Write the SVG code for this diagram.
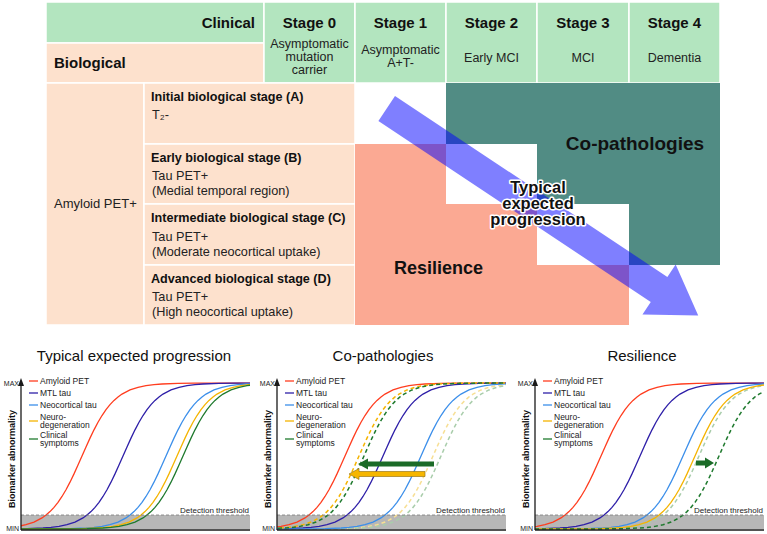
<svg xmlns="http://www.w3.org/2000/svg" xmlns:xlink="http://www.w3.org/1999/xlink" width="767" height="534" viewBox="0 0 767 534">
<style>
text{font-family:"Liberation Sans",Arial,sans-serif;fill:#111}
.cg{fill:#b3e5bf;stroke:#fff;stroke-width:1.5}
.cp{fill:#fde1cd;stroke:#fff;stroke-width:1.5}
.st{font-size:15px;font-weight:bold;text-anchor:middle}
.sub{font-size:12.5px;text-anchor:middle;fill:#222}
.rt{font-size:12.6px;font-weight:bold}
.rr{font-size:12.7px;fill:#222}
.ttl{font-size:15px;text-anchor:middle}
.lg{font-size:8.5px;fill:#222}
.ax{font-size:7px;text-anchor:end;fill:#222}
.yl{font-size:9px;font-weight:bold;text-anchor:middle}
.dt{font-size:8px;text-anchor:end;fill:#222}
.c{fill:none;stroke-width:1.3}
.am{stroke:#ff3d1f}
.mt{stroke:#2e1fa8}
.nc{stroke:#3c8fea}
.nd{stroke:#f5b400}
.cl{stroke:#1f7a2e}
.fy{stroke:#f7df94}
.fg{stroke:#a9cdab}
.d{stroke-dasharray:4 3;stroke-width:1.5}
.band{fill:#b7b7b7}
.thr{stroke:#7a7a7a;stroke-width:0.8;stroke-dasharray:3 2}
.axis{stroke:#1a1a1a;stroke-width:1.3}
.big{font-weight:bold;fill:#111}
.halo{stroke:#fff;stroke-width:3;stroke-linejoin:round;paint-order:stroke}
</style>
<defs>
<path id="sig" fill="none" d="M-240,0 L-128,-0.05 L-112,-0.13 L-96,-0.36 L-80,-0.98 L-72,-1.61 L-64,-2.63 L-56,-4.28 L-48,-6.92 L-40,-11.08 L-36,-13.91 L-32,-17.40 L-28,-21.61 L-24,-26.63 L-20,-32.51 L-16,-39.26 L-12,-46.84 L-8,-55.12 L-4,-63.92 L0,-73 L4,-82.08 L8,-90.88 L12,-99.16 L16,-106.74 L20,-113.49 L24,-119.37 L28,-124.39 L32,-128.6 L36,-132.09 L40,-134.92 L48,-139.08 L56,-141.72 L64,-143.37 L72,-144.39 L80,-145.02 L96,-145.64 L112,-145.87 L128,-145.95 L240,-146"/>
<clipPath id="clip" clipPathUnits="userSpaceOnUse"><rect x="0" y="370" width="229" height="165"/></clipPath>
<g id="frame">
<rect class="band" x="0" y="515" width="229" height="14"/>
</g>
<g id="axes">
<line class="thr" x1="0" y1="515" x2="229" y2="515"/>
<text class="dt" x="228" y="513">Detection threshold</text>
<line class="axis" x1="0" y1="530" x2="229" y2="530"/>
<line class="axis" x1="0" y1="530" x2="0" y2="385"/>
<polygon points="0,378 -3,386 3,386" fill="#1a1a1a"/>
<text class="ax" x="-2" y="386">MAX</text>
<text class="ax" x="-2" y="531">MIN</text>
<text class="yl" transform="translate(-6,459) rotate(-90)">Biomarker abnormality</text>
<line class="c am" x1="8" y1="381" x2="17" y2="381"/>
<text class="lg" x="19" y="384">Amyloid PET</text>
<line class="c mt" x1="8" y1="393" x2="17" y2="393"/>
<text class="lg" x="19" y="396">MTL tau</text>
<line class="c nc" x1="8" y1="405" x2="17" y2="405"/>
<text class="lg" x="19" y="408">Neocortical tau</text>
<line class="c nd" x1="8" y1="421" x2="17" y2="421"/>
<text class="lg" x="19" y="420">Neuro-</text>
<text class="lg" x="19" y="427.5">degeneration</text>
<line class="c cl" x1="8" y1="439" x2="17" y2="439"/>
<text class="lg" x="19" y="438">Clinical</text>
<text class="lg" x="19" y="445.5">symptoms</text>
</g>
</defs>

<g id="table">
<g id="clinical-header"><rect class="cg" x="46" y="2" width="218" height="41"/><text class="st" x="255" y="28" style="text-anchor:end">Clinical</text></g>
<g id="biological-header"><rect class="cp" x="46" y="43" width="218" height="40"/><text class="st" x="54" y="68" style="text-anchor:start">Biological</text></g>
<g id="stage0"><rect class="cg" x="264" y="2" width="91" height="81"/><text class="st" x="309.5" y="28">Stage 0</text><text class="sub" x="309.5" y="48">Asymptomatic</text><text class="sub" x="309.5" y="61">mutation</text><text class="sub" x="309.5" y="74">carrier</text></g>
<g id="stage1"><rect class="cg" x="355" y="2" width="91" height="81"/><text class="st" x="400.5" y="28">Stage 1</text><text class="sub" x="400.5" y="54">Asymptomatic</text><text class="sub" x="400.5" y="67">A+T-</text></g>
<g id="stage2"><rect class="cg" x="446" y="2" width="91" height="81"/><text class="st" x="491.5" y="28">Stage 2</text><text class="sub" x="491.5" y="61.5">Early MCI</text></g>
<g id="stage3"><rect class="cg" x="537" y="2" width="92" height="81"/><text class="st" x="583" y="28">Stage 3</text><text class="sub" x="583" y="61.5">MCI</text></g>
<g id="stage4"><rect class="cg" x="629" y="2" width="91" height="81"/><text class="st" x="674.5" y="28">Stage 4</text><text class="sub" x="674.5" y="61.5">Dementia</text></g>
<g id="amyloid"><rect class="cp" x="46" y="83" width="98" height="242"/><text class="rr" x="54" y="208" style="font-size:13px">Amyloid PET+</text></g>
<g id="stageA"><rect class="cp" x="144" y="83" width="211" height="61"/><text class="rt" x="151" y="101">Initial biological stage (A)</text><text class="rr" x="152" y="119">T₂-</text></g>
<g id="stageB"><rect class="cp" x="144" y="144" width="211" height="60"/><text class="rt" x="151" y="162">Early biological stage (B)</text><text class="rr" x="152" y="180">Tau PET+</text><text class="rr" x="152" y="195">(Medial temporal region)</text></g>
<g id="stageC"><rect class="cp" x="144" y="204" width="211" height="61"/><text class="rt" x="151" y="222">Intermediate biological stage (C)</text><text class="rr" x="152" y="241">Tau PET+</text><text class="rr" x="152" y="256">(Moderate neocortical uptake)</text></g>
<g id="stageD"><rect class="cp" x="144" y="265" width="211" height="60"/><text class="rt" x="151" y="283">Advanced biological stage (D)</text><text class="rr" x="152" y="301">Tau PET+</text><text class="rr" x="152" y="316">(High neocortical uptake)</text></g>
</g>

<g id="resilience"><polygon points="355,144 446,144 446,204 537,204 537,265 629,265 629,325 355,325" fill="#fba993"/><text class="big" x="394" y="274" style="font-size:18px">Resilience</text></g>
<g id="co-pathologies"><polygon points="446,83 720,83 720,265 629,265 629,204 537,204 537,144 446,144" fill="#518c84"/><text class="big" x="635" y="150" style="font-size:19px;text-anchor:middle">Co-pathologies</text></g>

<g id="connectors">
<polygon transform="translate(395,96) rotate(33.6)" points="0,0 327,0 327,-15 374,15 327,45 327,30 0,30" fill="#0000ff" fill-opacity="0.5"/>
</g>
<g id="typical-label" style="font-size:16.5px;font-weight:bold;text-anchor:middle">
<text class="halo" x="538" y="193">Typical</text>
<text class="halo" x="538" y="209">expected</text>
<text class="halo" x="538" y="225">progression</text>
</g>

<g id="chart-typical">
<text class="ttl" x="134" y="361">Typical expected progression</text>
<g transform="translate(21,0)">
<use href="#frame"/>
<g clip-path="url(#clip)">
<use href="#sig" class="c am" x="61" y="529"/>
<use href="#sig" class="c mt" x="102" y="529"/>
<use href="#sig" class="c nc" x="145" y="529"/>
<use href="#sig" class="c nd" x="156" y="529"/>
<use href="#sig" class="c cl" x="162" y="529"/>
</g>
<use href="#axes"/>
</g>
</g>

<g id="chart-copathologies">
<text class="ttl" x="383" y="361">Co-pathologies</text>
<g transform="translate(277,0)">
<use href="#frame"/>
<g clip-path="url(#clip)">
<use href="#sig" class="c fy d" x="156" y="529"/>
<use href="#sig" class="c fg d" x="164" y="529"/>
<use href="#sig" class="c am" x="68" y="529"/>
<use href="#sig" class="c mt" x="106" y="529"/>
<use href="#sig" class="c nc" x="144" y="529"/>
<use href="#sig" class="c nd d" x="82" y="529"/>
<use href="#sig" class="c cl d" x="87" y="529"/>
</g>
<use href="#axes"/>
</g>
<polygon points="434,461.5 368,461.5 368,458.5 358,464 368,469.5 368,466.5 434,466.5" fill="#1b6b27"/>
<polygon points="425,471.5 359,471.5 359,468.5 349,474 359,479.5 359,476.5 425,476.5" fill="#f6b600" stroke="#9c7a1a" stroke-width="0.7"/>
</g>

<g id="chart-resilience">
<text class="ttl" x="642" y="361">Resilience</text>
<g transform="translate(535,0)">
<use href="#frame"/>
<g clip-path="url(#clip)">
<use href="#sig" class="c fg d" x="164" y="529"/>
<use href="#sig" class="c am" x="66" y="529"/>
<use href="#sig" class="c mt" x="105" y="529"/>
<use href="#sig" class="c nc" x="148" y="529"/>
<use href="#sig" class="c nd" x="160" y="529"/>
<use href="#sig" class="c cl d" x="184" y="529"/>
</g>
<use href="#axes"/>
</g>
<polygon points="696,460.5 705,460.5 705,457.5 714,463 705,468.5 705,465.5 696,465.5" fill="#1b6b27"/>
</g>
</svg>
